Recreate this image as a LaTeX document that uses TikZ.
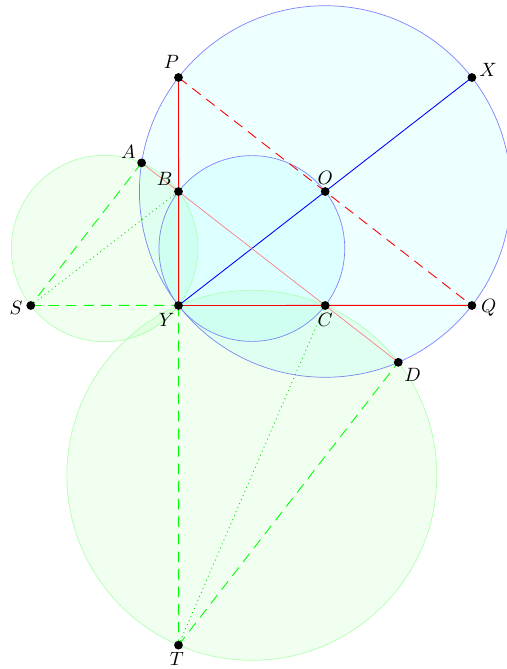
\PassOptionsToPackage{rgb}{xcolor}
\documentclass[tikz,border=0pt]{standalone}
\usetikzlibrary{positioning}
\definecolor{linered}{RGB}{255,0,0}
\definecolor{lineblue}{RGB}{0,0,255}
\definecolor{linegreen}{RGB}{0,255,0}
\definecolor{cyanfill}{RGB}{0,255,255}
\definecolor{greenfill}{RGB}{0,255,0}

\begin{document}
\begin{tikzpicture}[scale=1,
    every label/.style={font=\fontsize{11}{13}\selectfont},
    dot/.style={circle, fill=black, inner sep=0pt, minimum size=5pt},
    seg/.style={line width=0.5pt},
    bluecirc/.style={draw=lineblue!50, fill=cyanfill, fill opacity=0.07},
    greencirc/.style={draw=linegreen!30, fill=greenfill, fill opacity=0.06},
    greendash/.style={seg, draw=linegreen, dash pattern=on 6pt off 4pt},
    greendot/.style={seg, draw=linegreen!85!black, dotted}]
    \useasboundingbox (-3.57,-7.27) rectangle (6.55,6.11);

    % cac diem chinh
    \coordinate (Y) at (0,0);
    \coordinate (P) at (0,4.56);
    \coordinate (X) at (5.868,4.56);
    \coordinate (Q) at (5.868,0);
    \coordinate (O) at (2.934,2.28);
    \coordinate (B) at (0,2.28);
    \coordinate (C) at (2.934,0);
    \coordinate (A) at (-0.7373,2.853);
    \coordinate (D) at (4.3959,-1.1361);
    \coordinate (S) at (-2.9543,0);
    \coordinate (T) at (0,-6.7929);

    % hai duong tron xanh duong
    \draw[bluecirc] (O) circle (3.7157);
    \draw[bluecirc] (1.467,1.14) circle (1.8579);

    % hai duong tron xanh la
    \draw[greencirc] (-1.4772,1.14) circle (1.8659);
    \draw[greencirc] (1.467,-3.3965) circle (3.6998);

    % cac doan thang (lech 0.1pt de khong nam ngang/dung han)
    \draw[seg, draw=linered] (P) -- ([xshift=0.1pt]Y);
    \draw[seg, draw=linered] (Y) -- ([yshift=0.1pt]Q);
    \draw[seg, draw=linered, dash pattern=on 6pt off 4pt] (P) -- (Q);
    \draw[seg, draw=lineblue] (Y) -- (X);
    \draw[draw=linered!50] (A) -- (D);

    % S va T
    \draw[greendash] (A) -- (S);
    \draw[greendash] (S) -- ([yshift=0.1pt]Y);
    \draw[greendash] (Y) -- ([xshift=0.1pt]T);
    \draw[greendash] (T) -- (D);
    \draw[greendot] (S) -- (B);
    \draw[greendot] (T) -- (C);

    % cac diem va nhan
    \node[dot, label={[xshift=-4pt,yshift=-1pt]above:$P$}] (p) at (P) {};
    \node[dot, label={[xshift=-2pt,yshift=4.5pt]right:$X$}] (x) at (X) {};
    \node[dot, label={[xshift=-1pt,yshift=-1.5pt]right:$Q$}] (q) at (Q) {};
    \node[dot, label={[yshift=-2pt]above:$O$}] (o) at (O) {};
    \node[dot, label={[xshift=2pt,yshift=-2pt]above left:$B$}] (b) at (B) {};
    \node[dot, label={[yshift=2pt]below:$C$}] (c) at (C) {};
    \node[dot, label={[xshift=2pt,yshift=-3pt]above left:$A$}] (a) at (A) {};
    \node[dot, label={[xshift=-2pt,yshift=2pt]below right:$D$}] (d) at (D) {};
    \node[dot, label={[xshift=1.5pt,yshift=-1.5pt]left:$S$}] (s) at (S) {};
    \node[dot, label={[xshift=3pt,yshift=1pt]below left:$Y$}] (y) at (Y) {};
    \node[dot, label={[xshift=-1pt,yshift=2pt]below:$T$}] (t) at (T) {};
\end{tikzpicture}
\end{document}
